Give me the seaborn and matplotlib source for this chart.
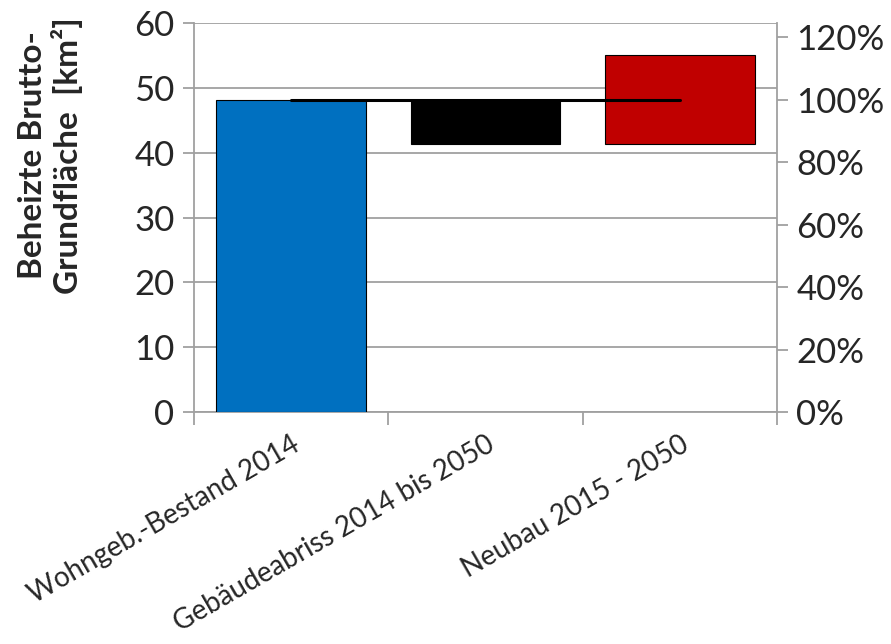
import matplotlib

matplotlib.use("Agg")

import numpy as np
import matplotlib.pyplot as plt
import matplotlib.transforms as mtransforms
import seaborn as sns
from matplotlib.ticker import FixedLocator, FuncFormatter

# data (km²)
categories = ["Wohngeb.-Bestand 2014", "Gebäudeabriss 2014 bis 2050", "Neubau 2015 - 2050"]
bestand = 48.2
abriss = 6.8
neubau = 13.7
bar_colors = ["#0070C0", "#000000", "#C00000"]
reference_pct = [100, 100]
right_ticks = [0, 20, 40, 60, 80, 100, 120]
left_ticks = [0, 10, 20, 30, 40, 50, 60]

heights = [bestand, abriss, neubau]
bottoms = [0, bestand - abriss, bestand - abriss]

sns.set_theme(style="white")
plt.rcParams["font.family"] = ["Lato", "DejaVu Sans"]

fig = plt.figure(figsize=(8.91, 6.44), dpi=100)
ax = fig.add_axes([0.2177, 0.360, 0.6543, 0.6043])

sns.barplot(x=categories, y=heights, bottom=bottoms, width=0.77, color="#000000",
            edgecolor="#000000", linewidth=0.8, saturation=1, ax=ax, zorder=3)
for patch, c in zip(ax.patches, bar_colors):
    patch.set_facecolor(c)

ax.set_xlim(-0.5, len(categories) - 0.5)
ax.set_ylim(0, 60)
ax.set_yticks(left_ticks)
ax.yaxis.grid(True, color="#A0A0A0", linewidth=1.3, zorder=0)
ax.set_axisbelow(True)

# category boundaries as ticks, labels at the centers
ax.xaxis.set_major_locator(FixedLocator(np.arange(len(categories) + 1) - 0.5))
ax.xaxis.set_minor_locator(FixedLocator(np.arange(len(categories))))
ax.set_xticklabels([], minor=False)
ax.set_xticklabels(categories, minor=True, rotation=30, ha="right",
                   rotation_mode="anchor", fontsize=20)
shift = mtransforms.ScaledTranslation(0.04, 0, fig.dpi_scale_trans)
for lbl in ax.get_xticklabels(minor=True):
    lbl.set_transform(lbl.get_transform() + shift)
ax.tick_params(axis="x", which="major", length=9, width=1.3, color="#A0A0A0", direction="out", bottom=True)
ax.tick_params(axis="x", which="minor", length=0, pad=14)
ax.tick_params(axis="y", length=8, width=1.3, color="#A0A0A0", direction="out", left=True, labelsize=25, pad=6)
ax.set_xlabel("")

for side in ["left", "bottom", "right"]:
    ax.spines[side].set_color("#A0A0A0")
    ax.spines[side].set_linewidth(1.3)
ax.spines["top"].set_visible(False)

ax.set_ylabel("Beheizte Brutto-\nGrundfläche  [km²]", fontsize=24, fontweight="bold", linespacing=1.15)
ax.yaxis.set_label_coords(-0.19, 0.66)

# right axis in percent of the 2014 stock
ax2 = ax.twinx()
ax2.set_ylim(0, 60 / bestand * 100)
ax2.set_yticks(right_ticks)
ax2.yaxis.set_major_formatter(FuncFormatter(lambda v, p: f"{v:.0f}%"))
ax2.tick_params(axis="y", length=8, width=1.3, color="#A0A0A0", direction="out", right=True, labelsize=25, pad=6)
for side in ["left", "bottom", "right", "top"]:
    ax2.spines[side].set_visible(False)
ax2.grid(False)

sns.lineplot(x=[0, len(categories) - 1], y=reference_pct, color="black", linewidth=2.2, ax=ax2)

fig.savefig("out.png", dpi=100)
